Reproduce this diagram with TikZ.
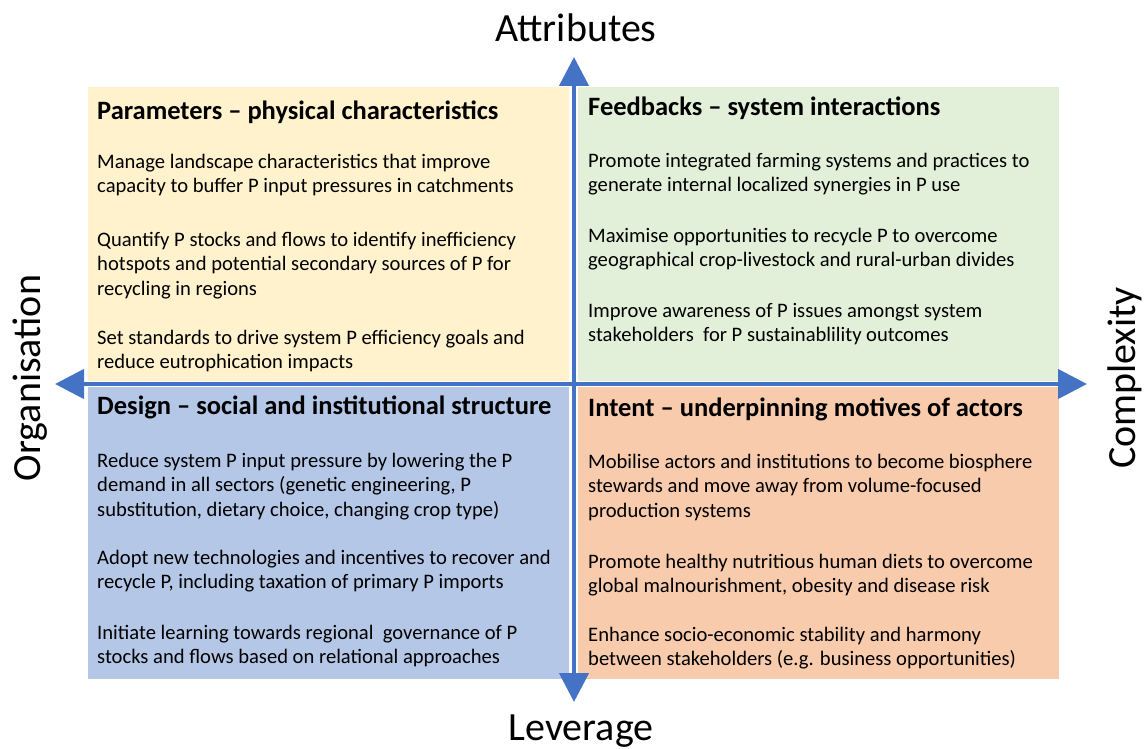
\documentclass[tikz,border=0pt]{standalone}
\usepackage{fontspec}
\setmainfont{Carlito}
\usetikzlibrary{arrows.meta}
\definecolor{qyellow}{HTML}{FFF2CC}
\definecolor{qgreen}{HTML}{E2F0D9}
\definecolor{qblue}{HTML}{B4C7E7}
\definecolor{qorange}{HTML}{F8CBAD}
\definecolor{axisblue}{HTML}{4472C4}
\tikzset{
  head/.style={anchor=base west, inner sep=0pt, font=\fontsize{26.5}{30}\selectfont\bfseries},
  para/.style={anchor=base west, inner sep=0pt, font=\fontsize{20.6}{24.6}\selectfont},
  axislabel/.style={inner sep=0pt, font=\fontsize{40}{46}\selectfont},
  axisline/.style={draw=axisblue, line width=4.5pt,
    {Triangle[length=29pt,width=29pt]}-{Triangle[length=29pt,width=29pt]}}
}
\newcommand{\pbox}[1]{\parbox[t]{470pt}{\raggedright #1}}
\begin{document}
\begin{tikzpicture}[x=1pt,y=-1pt]
\useasboundingbox (0,0) rectangle (1148,749);
% quadrants
\fill[qyellow] (88,87) rectangle (569,381);
\fill[qgreen] (578,87) rectangle (1059,381);
\fill[qblue] (88,387) rectangle (569,679);
\fill[qorange] (578,387) rectangle (1059,679);
% axes
\coordinate (top) at (574,57);
\coordinate (bottom) at (574,702);
\coordinate (left) at (55,384);
\coordinate (right) at (1087,384);
\draw[axisline] (bottom) -- (top);
\draw[axisline] (left) -- (right);
% axis labels
\node[axislabel] (attr) at (576,28) {Attributes};
\node[axislabel] (lev) at (581,731) {Leverage};
\node[axislabel, rotate=90] (org) at (30,378) {Organisation};
\node[axislabel, rotate=90] (cx) at (1125,378) {Complexity};
% yellow
\node[head] (yh) at (97,120) {Parameters – physical characteristics};
\node[para] (y1) at (97,168) {\pbox{Manage landscape characteristics that improve\\capacity to buffer P input pressures in catchments}};
\node[para] (y2) at (97,246) {\pbox{Quantify P stocks and flows to identify inefficiency\\hotspots and potential secondary sources of P for\\recycling in regions}};
\node[para] (y3) at (97,344) {\pbox{Set standards to drive system P efficiency goals and\\reduce eutrophication impacts}};
% green
\node[head] (gh) at (588,116) {Feedbacks – system interactions};
\node[para] (g1) at (588,167) {\pbox{Promote integrated farming systems and practices to\\generate internal localized synergies in P use}};
\node[para] (g2) at (588,242) {\pbox{Maximise opportunities to recycle P to overcome\\geographical crop-livestock and rural-urban divides}};
\node[para] (g3) at (588,317) {\pbox{Improve awareness of P issues amongst system\\stakeholders\ \ for P sustainablility outcomes}};
% blue
\node[head] (bh) at (97,414) {Design – social and institutional structure};
\node[para] (b1) at (97,467) {\pbox{Reduce system P input pressure by lowering the P\\demand in all sectors (genetic engineering, P\\substitution, dietary choice, changing crop type)}};
\node[para] (b2) at (97,564) {\pbox{Adopt new technologies and incentives to recover and\\recycle P, including taxation of primary P imports}};
\node[para] (b3) at (97,639) {\pbox{Initiate learning towards regional\ \ governance of P\\stocks and flows based on relational approaches}};
% orange
\node[head] (oh) at (588,416) {Intent – underpinning motives of actors};
\node[para] (o1) at (588,468) {\pbox{Mobilise actors and institutions to become biosphere\\stewards and move away from volume-focused\\production systems}};
\node[para] (o2) at (588,568) {\pbox{Promote healthy nutritious human diets to overcome\\global malnourishment, obesity and disease risk}};
\node[para] (o3) at (588,641) {\pbox{Enhance socio-economic stability and harmony\\between stakeholders (e.g. business opportunities)}};
\end{tikzpicture}
\end{document}
